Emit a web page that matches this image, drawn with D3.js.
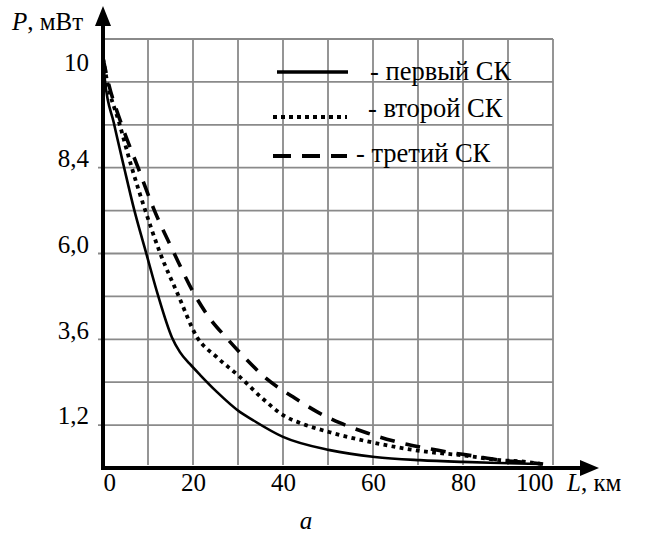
<!DOCTYPE html>
<html>
<head>
<meta charset="utf-8">
<script src="https://cdn.jsdelivr.net/npm/d3@7"></script>
<style>
    body { margin: 0; background: #fff; }
    svg text { font-family: "Liberation Serif", "Times New Roman", Times, "DejaVu Serif", serif; fill: #000; }
</style>
</head>
<body>
<div id="chart"></div>
<script>
// distance L, km and power P, mW
var firstL = [0, 0.44, 2.4, 4.7, 6.9, 9.6, 12.2, 15.3, 17.1, 19.3, 21.6, 25.3, 30.4, 33.3, 40, 50.4, 60.4, 70.4, 80, 88.2, 97];
var firstP = [10.23, 9.85, 9.15, 8.4, 7.24, 6.01, 4.84, 3.66, 3.24, 2.91, 2.6, 2.13, 1.57, 1.34, 0.87, 0.5, 0.31, 0.22, 0.17, 0.14, 0.11];

var secondL = [0, 0.9, 3.6, 6.4, 9.3, 12.7, 16.7, 20.9, 25.3, 30.4, 35.3, 40.4, 43.8, 50.4, 60.4, 70.4, 80.9, 88.2, 94.2, 97.6];
var secondP = [10.23, 9.85, 9.15, 8.4, 7.24, 6.01, 4.84, 3.66, 3.1, 2.55, 1.96, 1.45, 1.26, 1.0, 0.7, 0.48, 0.34, 0.22, 0.17, 0.11];

var thirdL = [0, 1.1, 4.0, 7.8, 11.3, 15.8, 20.4, 24.0, 27.3, 32.0, 36.4, 42.2, 47.6, 52.7, 58.7, 64.4, 70.4, 76.4, 82.2, 88.2, 95.6, 97.8];
var thirdP = [10.23, 9.85, 9.15, 8.4, 7.24, 6.01, 4.84, 4.14, 3.66, 3.02, 2.49, 1.99, 1.57, 1.26, 0.98, 0.76, 0.59, 0.45, 0.34, 0.22, 0.14, 0.11];

var xTicks = [0, 20, 40, 60, 80, 100];
var yTicks = [1.2, 3.6, 6.0, 8.4, 10];
var yTickLabels = ["1,2", "3,6", "6,0", "8,4", "10"];
var legendLabels = ["- первый СК", "- второй СК", "- третий СК"];

var width = 645,
    height = 533;

var svg = d3.select("#chart")
    .append("svg")
    .attr("width", width)
    .attr("height", height);

var x = d3.scaleLinear().domain([0, 100]).range([103, 553]);
// grid rows are 1.2 mW each; the "10" mark sits off the grid like in the original
var rows = d3.scaleLinear().domain([0, 12]).range([468, 39]);
var y = d3.scaleLinear().domain([0, 8.4, 10]).range([rows(0), rows(8.4), 72]);

var gridColor = "#8a8a8a";

// grid
svg.append("g")
    .selectAll("line")
    .data(d3.range(10, 101, 10))
    .enter()
    .append("line")
    .attr("x1", d => x(d))
    .attr("x2", d => x(d))
    .attr("y1", rows(12))
    .attr("y2", rows(0) - 3)
    .attr("stroke", gridColor)
    .attr("stroke-width", 1.8);

svg.append("g")
    .selectAll("line")
    .data(d3.range(1, 11).map(d => d * 1.2))
    .enter()
    .append("line")
    .attr("x1", (d, i) => (i % 2 == 0 && i < 8) ? x(0) - 5 : x(0))
    .attr("x2", x(100))
    .attr("y1", d => rows(d))
    .attr("y2", d => rows(d))
    .attr("stroke", gridColor)
    .attr("stroke-width", 1.8);

// curves
var line = d3.line()
    .x(d => x(d[0]))
    .y(d => y(d[1]))
    .curve(d3.curveMonotoneX);

var series = [
    { pts: d3.zip(firstL, firstP), width: 2.6, dash: null },
    { pts: d3.zip(secondL, secondP), width: 3.8, dash: "3.8,4.4" },
    { pts: d3.zip(thirdL, thirdP), width: 3.6, dash: "15,11" }
];

svg.append("g")
    .selectAll("path")
    .data(series)
    .enter()
    .append("path")
    .attr("d", d => line(d.pts))
    .attr("fill", "none")
    .attr("stroke", "#000")
    .attr("stroke-width", d => d.width)
    .attr("stroke-dasharray", d => d.dash);

// axes
var xAxis = svg.append("g")
    .attr("transform", "translate(0," + rows(0) + ")")
    .call(d3.axisBottom(x).tickValues(xTicks).tickSize(0));
xAxis.attr("font-family", null).attr("font-size", null);
xAxis.select(".domain").remove();
xAxis.selectAll("text")
    .attr("y", 23)
    .attr("dy", null)
    .style("font-size", "25px")
    .attr("text-anchor", (d, i) => i == 0 ? "start" : (i == xTicks.length - 1 ? "end" : "middle"));

var yAxis = svg.append("g")
    .attr("transform", "translate(" + x(0) + ",0)")
    .call(d3.axisLeft(y).tickValues(yTicks).tickSize(0).tickPadding(14)
        .tickFormat((d, i) => yTickLabels[i]));
yAxis.attr("font-family", null).attr("font-size", null);
yAxis.select(".domain").remove();
yAxis.selectAll("text")
    .attr("dy", "-0.05em")
    .style("font-size", "25px");

svg.append("line")
    .attr("x1", x(0)).attr("x2", x(0))
    .attr("y1", rows(0) + 2).attr("y2", 24)
    .attr("stroke", "#000").attr("stroke-width", 4);
svg.append("path")
    .attr("d", "M" + (x(0) - 8) + ",26L" + x(0) + ",6L" + (x(0) + 8) + ",26Z")
    .attr("fill", "#000");

svg.append("line")
    .attr("x1", x(0) - 2).attr("x2", 582)
    .attr("y1", rows(0)).attr("y2", rows(0))
    .attr("stroke", "#000").attr("stroke-width", 4);
svg.append("path")
    .attr("d", "M580," + (rows(0) - 8) + "L599," + rows(0) + "L580," + (rows(0) + 8) + "Z")
    .attr("fill", "#000");

// axis titles
var pTitle = svg.append("text")
    .attr("x", 12)
    .attr("y", 30)
    .style("font-size", "25px");
pTitle.append("tspan").attr("font-style", "italic").text("P");
pTitle.append("tspan").text(", мВт");

var lTitle = svg.append("text")
    .attr("x", 567)
    .attr("y", 491)
    .style("font-size", "25px");
lTitle.append("tspan").attr("font-style", "italic").text("L");
lTitle.append("tspan").text(", км");

svg.append("text")
    .attr("x", 306)
    .attr("y", 529)
    .attr("text-anchor", "middle")
    .style("font-size", "25px")
    .attr("font-style", "italic")
    .text("a");

// legend
var legendLine = [{ x1: 277, x2: 348, y: 72 }, { x1: 273, x2: 347, y: 117 }, { x1: 273, x2: 347, y: 156 }];
var legendText = [{ x: 370, y: 80 }, { x: 368, y: 117 }, { x: 356, y: 162 }];

var legend = svg.append("g");
legend.selectAll("line")
    .data(series)
    .enter()
    .append("line")
    .attr("x1", (d, i) => legendLine[i].x1)
    .attr("x2", (d, i) => legendLine[i].x2)
    .attr("y1", (d, i) => legendLine[i].y)
    .attr("y2", (d, i) => legendLine[i].y)
    .attr("stroke", "#000")
    .attr("stroke-width", (d, i) => i == 0 ? 3.6 : 4)
    .attr("stroke-dasharray", (d, i) => i == 0 ? null : (i == 1 ? "4,4" : "18,11"));

legend.selectAll("text")
    .data(legendLabels)
    .enter()
    .append("text")
    .attr("x", (d, i) => legendText[i].x)
    .attr("y", (d, i) => legendText[i].y)
    .style("font-size", "26.5px")
    .text(d => d);
</script>
</body>
</html>
